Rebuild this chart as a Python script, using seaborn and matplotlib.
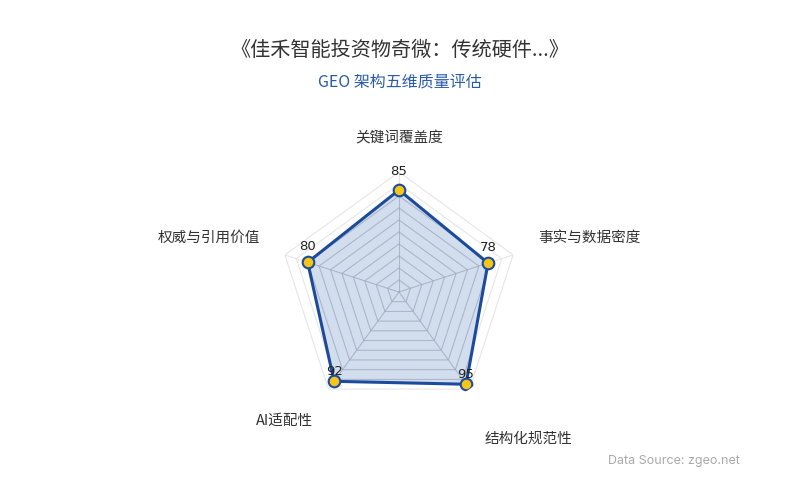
import numpy as np
import pandas as pd
import matplotlib
matplotlib.use("Agg")
import matplotlib.pyplot as plt
import seaborn as sns

# chart data
indicators = ["关键词覆盖度", "事实与数据密度", "结构化规范性", "AI适配性", "权威与引用价值"]
scores = [85, 78, 95, 92, 80]
max_score = 100
grid_levels = [10, 20, 30, 40, 50, 60, 70, 80, 90, 100]

title = "《佳禾智能投资物奇微：传统硬件...》"
subtitle = "GEO 架构五维质量评估"
source_note = "Data Source: zgeo.net"

sns.set_theme(style="white")
plt.rcParams["font.family"] = ["Noto Sans CJK SC", "DejaVu Sans"]

n = len(indicators)
angles = np.linspace(0, 2 * np.pi, n, endpoint=False)
closed_angles = np.append(angles, angles[0])
df = pd.DataFrame({"indicator": indicators, "score": scores, "theta": angles})

fig = plt.figure(figsize=(8, 5), dpi=100)
ax = fig.add_axes([0.34875, 0.176, 0.3, 0.48], projection="polar")
ax.set_theta_offset(np.pi / 2)
ax.set_theta_direction(-1)
ax.set_ylim(0, max_score)
ax.grid(False)
ax.spines["polar"].set_visible(False)
ax.set_xticks([])
ax.set_yticks([])
ax.patch.set_alpha(0)

# pentagon grid + spokes (light)
for lv in grid_levels:
    ax.plot(closed_angles, [lv] * (n + 1), color="#e6e6e6", lw=0.8, zorder=1)
for a in angles:
    ax.plot([a, a], [0, max_score], color="#e6e6e6", lw=0.8, zorder=1)

# filled area
closed_scores = scores + scores[:1]
fill = ax.fill(closed_angles, closed_scores, color="#2155a5", alpha=0.2, lw=0, zorder=2)[0]

# grid lines seen through the fill
for lv in grid_levels:
    ln, = ax.plot(closed_angles, [lv] * (n + 1), color="#8d9ab5", lw=0.6, alpha=0.45, zorder=3)
    ln.set_clip_path(fill)
for a in angles:
    ln, = ax.plot([a, a], [0, max_score], color="#8d9ab5", lw=0.6, alpha=0.45, zorder=3)
    ln.set_clip_path(fill)

ax.plot(closed_angles, closed_scores, color="#1d4b9b", lw=2.2, zorder=4)
sns.scatterplot(data=df, x="theta", y="score", ax=ax, s=70, color="#f5c518",
                edgecolor="#1d4b9b", linewidth=1.5, zorder=5, legend=False)
ax.set_xlabel("")
ax.set_ylabel("")
ax.set_ylim(0, max_score)

# value labels
for a, v in zip(angles, scores):
    off = (14 + 5 * np.cos(a)) * 0.72
    ax.annotate(str(v), (a, v), xytext=(0, off), textcoords="offset points",
                ha="center", va="center", fontsize=9.5, color="#222222",
                family=["DejaVu Sans"], zorder=6)

# indicator names: offset (px) from the end of each axis, alignment
name_place = [((0, 34), "center"), ((25, 17), "left"), ((15, -50), "left"),
              ((-15, -32), "right"), ((-25, 17), "right")]
for a, name, ((dx, dy), ha) in zip(angles, indicators, name_place):
    ax.annotate(name, (a, max_score), xytext=(dx * 0.72, dy * 0.72),
                textcoords="offset points", ha=ha, va="center",
                fontsize=10.5, color="#333333", annotation_clip=False)

fig.text(0.5, 1 - 50 / 500, title, ha="center", va="center", fontsize=14.5, color="#333333")
fig.text(0.5, 1 - 82 / 500, subtitle, ha="center", va="center", fontsize=11.5, color="#2a5caa")
fig.text(740 / 800, 1 - 461 / 500, source_note, ha="right", va="center", fontsize=9,
         color="#aaaaaa", family=["Inter", "DejaVu Sans"])

fig.savefig("out.png", dpi=100, facecolor="white")
